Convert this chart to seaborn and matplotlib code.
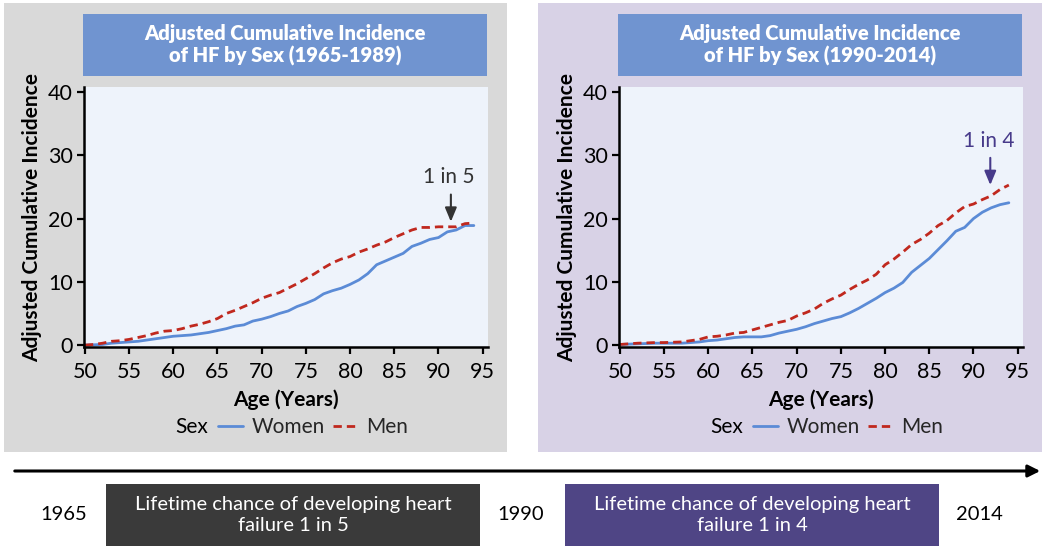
import matplotlib.pyplot as plt
import seaborn as sns
import pandas as pd
from matplotlib.patches import Rectangle, FancyArrowPatch

plt.switch_backend('agg')

# Data
ages = list(range(50, 95))

women_early = [0.0, 0.05, 0.1, 0.3, 0.4, 0.5, 0.6, 0.8, 1.0, 1.2, 1.4, 1.5, 1.6, 1.8, 2.0,
               2.3, 2.6, 3.0, 3.2, 3.8, 4.1, 4.5, 5.0, 5.4, 6.1, 6.6, 7.2, 8.1, 8.6, 9.0,
               9.6, 10.3, 11.3, 12.7, 13.3, 13.9, 14.5, 15.6, 16.1, 16.7, 17.0, 17.9, 18.2, 18.9, 18.9]
men_early = [0.0, 0.1, 0.3, 0.6, 0.7, 0.9, 1.2, 1.5, 1.9, 2.2, 2.3, 2.6, 3.0, 3.3, 3.7,
             4.2, 5.0, 5.5, 6.1, 6.7, 7.4, 7.9, 8.3, 9.0, 9.7, 10.5, 11.3, 12.2, 13.0, 13.6,
             14.0, 14.7, 15.2, 15.8, 16.3, 17.0, 17.6, 18.2, 18.6, 18.6, 18.7, 18.7, 18.7, 19.2, 19.3]

women_late = [0.1, 0.15, 0.2, 0.25, 0.3, 0.3, 0.3, 0.3, 0.4, 0.5, 0.7, 0.8, 1.0, 1.2, 1.3,
              1.3, 1.3, 1.5, 1.9, 2.2, 2.5, 2.9, 3.4, 3.8, 4.2, 4.5, 5.1, 5.8, 6.6, 7.4,
              8.3, 9.0, 9.9, 11.5, 12.6, 13.7, 15.1, 16.5, 18.0, 18.6, 20.0, 21.0, 21.7, 22.2, 22.5]
men_late = [0.1, 0.2, 0.3, 0.35, 0.4, 0.4, 0.45, 0.5, 0.7, 0.9, 1.3, 1.4, 1.6, 1.9, 2.0,
            2.4, 2.8, 3.2, 3.6, 3.9, 4.6, 5.1, 5.7, 6.6, 7.3, 7.9, 8.8, 9.6, 10.3, 11.2,
            12.7, 13.6, 14.7, 15.9, 16.7, 17.7, 18.9, 19.7, 20.9, 21.9, 22.3, 23.0, 23.6, 24.6, 25.3]

titles = ['Adjusted Cumulative Incidence\nof HF by Sex (1965-1989)',
          'Adjusted Cumulative Incidence\nof HF by Sex (1990-2014)']
callouts = ['1 in 5', '1 in 4']
callout_x = [91.4, 91.9]
callout_tip = [19.5, 25.3]
years = ['1965', '1990', '2014']
box_texts = ['Lifetime chance of developing heart\nfailure 1 in 5',
             'Lifetime chance of developing heart\nfailure 1 in 4']

sns.set_theme(style='white')
plt.rcParams['font.family'] = ['Lato', 'DejaVu Sans']

W, H = 1050, 550
fig = plt.figure(figsize=(10.5, 5.5), dpi=100)


def fx(px):
    return px / W


def fy(py):
    return 1 - py / H


def frect(x0, y0, x1, y1, color, z=0):
    r = Rectangle((fx(x0), fy(y1)), fx(x1 - x0), (y1 - y0) / H,
                  transform=fig.transFigure, facecolor=color, edgecolor='none', zorder=z)
    fig.patches.append(r)


# Panel backgrounds
frect(4, 3, 507, 452, '#d9d9d9', z=-2)
frect(538, 3, 1042, 452, '#d8d2e6', z=-2)

panels = [
    dict(x0=84, women=women_early, men=men_early, arrow_col='#333333'),
    dict(x0=619, women=women_late, men=men_late, arrow_col='#473a8a'),
]

women_col = '#5b8bd6'
men_col = '#c0281e'

for i, p in enumerate(panels):
    x0 = p['x0']
    # title box
    frect(x0 - 1, 14, x0 + 403, 76, '#7094d0', z=-1)
    fig.text(fx(x0 + 201), fy(45), titles[i], ha='center', va='center', color='white',
             fontsize=14.5, fontweight='heavy', linespacing=1.15)

    ax = fig.add_axes([fx(x0), fy(347), fx(404), 260 / H])
    ax.set_zorder(2)
    ax.set_facecolor('#eef3fb')
    df = pd.DataFrame({
        'Age': ages * 2,
        'Incidence': p['women'] + p['men'],
        'Sex': ['Women'] * len(ages) + ['Men'] * len(ages),
    })
    sns.lineplot(data=df, x='Age', y='Incidence', hue='Sex', style='Sex', ax=ax,
                 palette={'Women': women_col, 'Men': men_col},
                 dashes={'Women': '', 'Men': (3, 1.8)}, linewidth=2)
    ax.set_xlim(49.9, 95.6)
    ax.set_ylim(-0.3, 40.8)
    ax.set_xticks(range(50, 100, 5))
    ax.set_yticks([0, 10, 20, 30, 40])
    for s in ['top', 'right']:
        ax.spines[s].set_visible(False)
    for s in ['left', 'bottom']:
        ax.spines[s].set_color('black')
        ax.spines[s].set_linewidth(1.8)
    ax.tick_params(axis='both', direction='out', length=5, width=1.6, color='black',
                   labelsize=15.5, labelcolor='black', pad=3, left=True, bottom=True)
    ax.tick_params(axis='x', pad=6)
    ax.set_xlabel('Age (Years)', fontsize=15, fontweight='bold', color='black', labelpad=5)
    ax.set_ylabel('Adjusted Cumulative Incidence', fontsize=15, fontweight='bold',
                  color='black', labelpad=4)

    # callout arrow
    ax.annotate('', xy=(callout_x[i], callout_tip[i]), xytext=(callout_x[i], callout_tip[i] + 4.3),
                arrowprops=dict(arrowstyle='-|>,head_length=0.6,head_width=0.25',
                                color=p['arrow_col'], lw=1.5, mutation_scale=14,
                                shrinkA=0, shrinkB=0))
    ax.text(callout_x[i] - 0.2, callout_tip[i] + 7.0, callouts[i], ha='center', va='center',
            fontsize=15, color=p['arrow_col'])

    # legend with inline "Sex" title
    handles, labels = ax.get_legend_handles_labels()
    ax.get_legend().remove()
    hl = {l: h for h, l in zip(handles, labels)}
    fig.text(fx(x0 + 108), fy(427), 'Sex', ha='center', va='center', fontsize=15, color='black')
    fig.legend([hl['Women'], hl['Men']], ['Women', 'Men'], ncol=2, frameon=False,
               loc='center left', bbox_to_anchor=(fx(x0 + 134), fy(427)),
               fontsize=15, handlelength=1.2, handletextpad=0.4, columnspacing=0.4,
               borderpad=0, borderaxespad=0)

# Timeline
fig.add_artist(FancyArrowPatch((fx(12), fy(471)), (fx(1043), fy(471)),
                               transform=fig.transFigure, arrowstyle='-|>',
                               mutation_scale=18, color='black', lw=2.2))
frect(106, 484, 480, 546, '#3a3a3a')
frect(565, 484, 939, 546, '#4f4585')
fig.text(fx(293), fy(515), box_texts[0], ha='center', va='center', color='white', fontsize=14.5,
         linespacing=1.25)
fig.text(fx(752), fy(515), box_texts[1], ha='center', va='center', color='white', fontsize=14.5,
         linespacing=1.25)
for txt, xp in zip(years, [64, 521, 979]):
    fig.text(fx(xp), fy(515), txt, ha='center', va='center', color='black', fontsize=14.5)

fig.savefig('out.png', dpi=100, facecolor='white')
